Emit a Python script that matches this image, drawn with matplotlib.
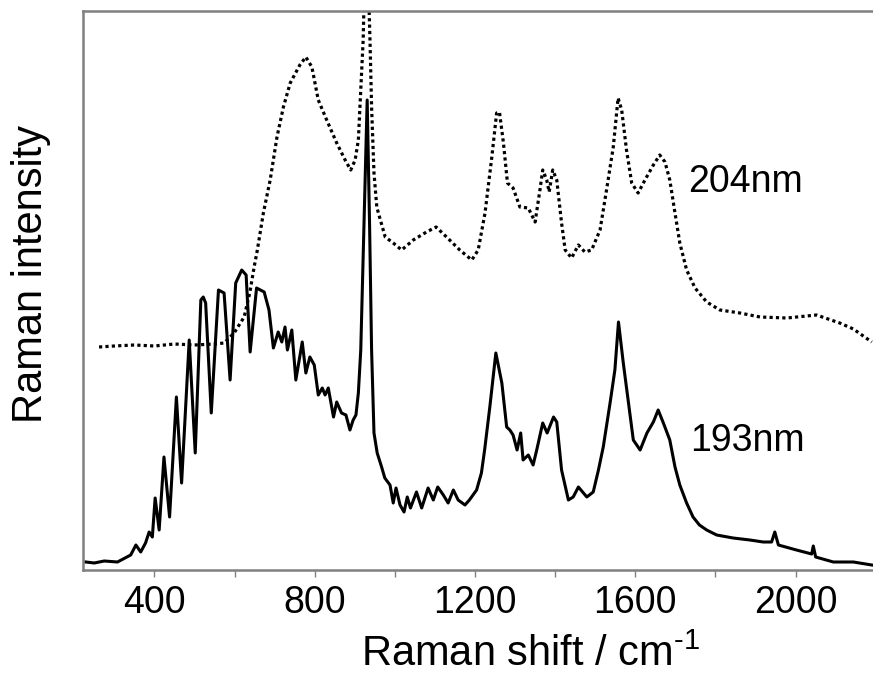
import matplotlib
matplotlib.use("Agg")
import matplotlib.pyplot as plt
from matplotlib.ticker import FixedLocator, FixedFormatter

plt.rcParams['font.family'] = ['Liberation Sans', 'DejaVu Sans']
plt.rcParams['mathtext.default'] = 'regular'
plt.rcParams['mathtext.fontset'] = 'custom'
plt.rcParams['mathtext.rm'] = 'Liberation Sans'

# 193 nm spectrum (solid)
x193 = [229, 250, 275, 308, 341, 354, 366, 378, 387, 395, 402, 412, 424, 438, 455, 468, 487, 502,
        516, 522, 528, 542, 560, 574, 589, 603, 618, 629, 639, 655, 674, 686, 697, 709, 718, 726,
        732, 743, 753, 769, 778, 788, 799, 809, 819, 826, 834, 847, 855, 867, 878, 888, 896, 903,
        909, 915, 923, 931, 937, 942, 948, 956, 967, 975, 988, 996, 1003, 1013, 1023, 1031, 1039,
        1054, 1067, 1083, 1096, 1107, 1121, 1133, 1146, 1158, 1175, 1186, 1204, 1216, 1224, 1237,
        1252, 1267, 1279, 1287, 1295, 1305, 1314, 1320, 1333, 1345, 1354, 1369, 1380, 1396, 1404,
        1416, 1433, 1445, 1458, 1479, 1495, 1508, 1520, 1537, 1549, 1558, 1570, 1582, 1595, 1612,
        1629, 1645, 1657, 1670, 1686, 1699, 1711, 1728, 1744, 1760, 1778, 1803, 1844, 1886, 1919,
        1940, 1948, 1957, 2002, 2040, 2044, 2050, 2094, 2144, 2190]
y193 = [8, 7, 9, 8, 15, 25, 18, 27, 38, 33, 72, 40, 113, 53, 173, 87, 230, 117,
        270, 273, 267, 157, 280, 277, 190, 287, 300, 295, 218, 282, 278, 260, 222, 238, 228, 243,
        220, 240, 190, 228, 197, 213, 205, 175, 182, 175, 182, 153, 168, 157, 155, 140, 150, 155,
        177, 220, 345, 470, 345, 220, 137, 117, 103, 92, 85, 67, 82, 65, 58, 73, 62,
        78, 62, 82, 70, 83, 75, 67, 80, 70, 65, 70, 80, 97, 120, 163,
        217, 187, 143, 140, 135, 120, 137, 110, 115, 105, 120, 147, 137, 153, 148,
        100, 70, 73, 83, 73, 78, 100, 123, 167, 200, 248, 207, 170, 130, 120,
        137, 148, 160, 147, 130, 103, 85, 67, 53, 45, 40, 35, 32, 30, 28,
        28, 38, 25, 20, 16, 24, 13, 8, 8, 5]

# 204 nm spectrum (dotted)
x204 = [262, 300, 350, 400, 450, 500, 550, 574, 599, 624, 638, 649, 657, 672, 689, 706, 722, 739,
        763, 778, 793, 809, 830, 855, 876, 890, 901, 909, 917, 921, 925, 929, 933, 938, 942, 948,
        955, 959, 976, 996, 1017, 1046, 1079, 1103, 1129, 1162, 1192, 1208, 1225, 1242, 1254, 1261,
        1271, 1281, 1295, 1312, 1333, 1350, 1362, 1369, 1379, 1385, 1394, 1404, 1416, 1425, 1441,
        1458, 1474, 1491, 1512, 1529, 1545, 1557, 1566, 1578, 1591, 1607, 1624, 1645, 1661, 1674,
        1686, 1699, 1711, 1728, 1749, 1778, 1811, 1861, 1911, 1978, 2052, 2110, 2144, 2190]
y204 = [223, 224, 225, 224, 226, 225, 226, 227, 237, 253, 277, 303, 320, 357, 390, 433, 463, 487,
        505, 513, 503, 470, 450, 427, 410, 400, 410, 430, 497, 530, 600, 700, 600, 530, 463, 397,
        363, 357, 333, 327, 320, 330, 338, 343, 333, 320, 310, 320, 357, 413, 457, 458,
        427, 387, 382, 363, 362, 348, 380, 400, 390, 378, 400, 390, 347, 320, 312,
        325, 318, 320, 340, 382, 423, 472, 460, 420, 387, 377, 390, 405, 415, 408,
        390, 357, 327, 300, 282, 268, 260, 257, 253, 252, 255, 247, 241, 228]

tick_positions = [400, 600, 800, 1000, 1200, 1400, 1600, 1800, 2000]
tick_labels = ['400', '', '800', '', '1200', '', '1600', '', '2000']

labels = ['204nm', '193nm']
label_x = [1731, 1736]
label_y = [388, 129]

fig = plt.figure(figsize=(8.73, 6.76), dpi=100)
ax = fig.add_axes([83 / 873, 1 - 570 / 676, 1 - 83 / 873, 559 / 676])

ax.plot(x193, y193, color='black', lw=2.2, solid_joinstyle='round')
ax.plot(x204, y204, color='black', lw=2.3, linestyle=(0, (1, 1)), dash_capstyle='butt')

for t, xx, yy in zip(labels, label_x, label_y):
    ax.text(xx, yy, t, fontsize=27, ha='left', va='center')

ax.set_xlim(222, 2193)
ax.set_ylim(0, 559)

ax.xaxis.set_major_locator(FixedLocator(tick_positions))
ax.xaxis.set_major_formatter(FixedFormatter(tick_labels))
ax.set_yticks([])
ax.tick_params(axis='x', direction='out', length=5, width=1, color='#808080',
               labelsize=27, pad=6)

for s in ['left', 'top', 'bottom']:
    ax.spines[s].set_color('#808080')
    ax.spines[s].set_linewidth(1.8)
ax.spines['right'].set_visible(False)

ax.set_xlabel(r'Raman shift / cm$^{\text{-}1}$', fontsize=30, va='baseline')
ax.xaxis.set_label_coords(0.567, -0.172)
ax.set_ylabel('Raman intensity', fontsize=30, va='center', ha='center')
ax.yaxis.set_label_coords(-0.066, 0.53)

fig.savefig('out.png', dpi=100)
